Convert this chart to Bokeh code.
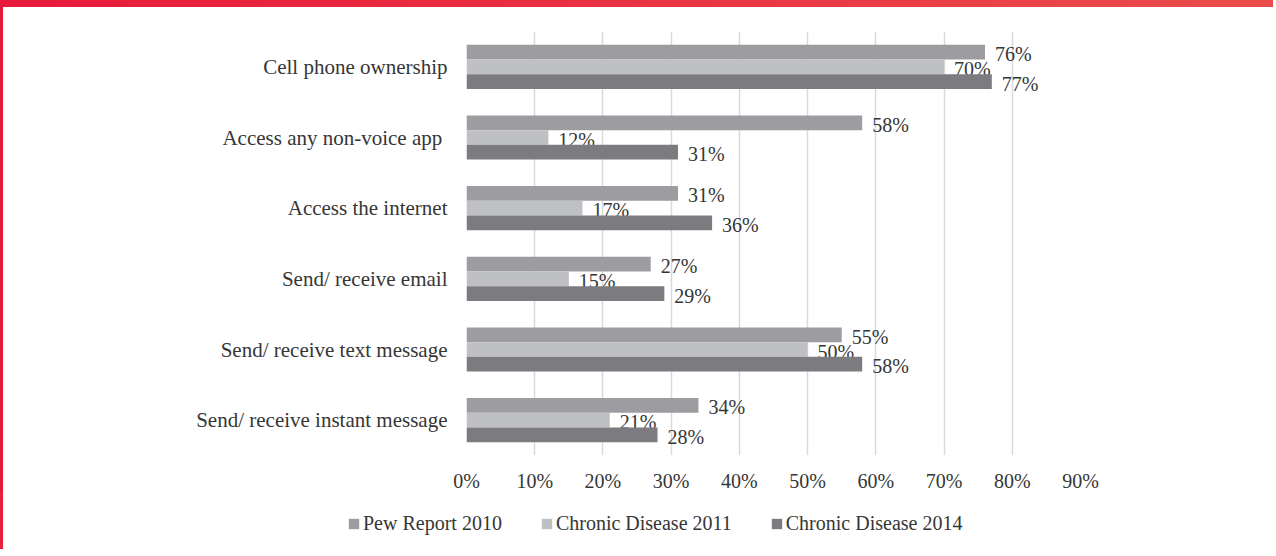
from bokeh.plotting import figure
from bokeh.layouts import column
from bokeh.models import Range1d, FixedTicker, Legend, LegendItem
from bokeh.core.properties import value
from bokeh.embed import file_html
from bokeh.resources import INLINE

categories = [
    "Cell phone ownership",
    "Access any non-voice  app",
    "Access the internet",
    "Send/ receive email",
    "Send/ receive text message",
    "Send/ receive instant message",
]
series_names = ["Pew Report 2010", "Chronic Disease 2011", "Chronic Disease 2014"]
pew_2010 = [76, 58, 31, 27, 55, 34]
chronic_2011 = [70, 12, 17, 15, 50, 21]
chronic_2014 = [77, 31, 36, 29, 58, 28]
x_ticks = [0, 10, 20, 30, 40, 50, 60, 70, 80, 90]

series = [pew_2010, chronic_2011, chronic_2014]
colors = ["#9d9da1", "#bfc0c3", "#7c7c80"]
FONT = "Liberation Serif"
TXT = "#363636"

n = len(categories)
centers = [n - 0.5 - i for i in range(n)]
bar_h = 0.208
offsets = [bar_h, 0.0, -bar_h]

p = figure(width=1273, height=493, output_backend="svg", toolbar_location=None,
           x_range=Range1d(0, 90), y_range=Range1d(0, n), frame_align=False,
           min_border_left=463, min_border_right=196, min_border_top=24, min_border_bottom=45,
           styles={"border-top": "7px solid #e8193b", "border-left": "3px solid #e6203d",
                   "border-image": "linear-gradient(to right, #e8193b, #ea4d4b) 1"})
p.outline_line_color = None
p.background_fill_color = "white"
p.border_fill_color = "white"

renderers = []
for vals, col, off in zip(series, colors, offsets):
    ys = [c + off for c in centers]
    r = p.hbar(y=ys, right=vals, left=0, height=bar_h, fill_color=col, line_color=None)
    renderers.append(r)
    p.text(x=vals, y=ys, text=[f"{v}%" for v in vals], x_offset=10, y_offset=2,
           text_baseline="middle", text_align="left",
           text_font=value(FONT), text_font_size="20px", text_color=TXT)

# axes
p.xaxis.ticker = FixedTicker(ticks=x_ticks)
p.xaxis.major_label_overrides = {t: f"{t}%" for t in x_ticks}
p.xaxis.axis_line_color = None
p.xaxis.major_tick_line_color = None
p.xaxis.minor_tick_line_color = None
p.xaxis.major_label_standoff = 8
p.xaxis.major_label_text_font = FONT
p.xaxis.major_label_text_font_size = "20px"
p.xaxis.major_label_text_color = TXT

p.yaxis.ticker = FixedTicker(ticks=centers)
p.yaxis.major_label_overrides = {c: lab for c, lab in zip(centers, categories)}
p.yaxis.axis_line_color = None
p.yaxis.major_tick_line_color = None
p.yaxis.minor_tick_line_color = None
p.yaxis.major_label_standoff = 13
p.yaxis.major_label_text_font = FONT
p.yaxis.major_label_text_font_size = "21px"
p.yaxis.major_label_text_color = TXT

p.xgrid.ticker = FixedTicker(ticks=x_ticks)
p.xgrid.grid_line_color = "#d9d9d9"
p.xgrid.grid_line_width = 1.5
p.ygrid.grid_line_color = None

# legend strip (separate small figure so the legend is not clipped)
lg = figure(width=1273, height=56, output_backend="svg", toolbar_location=None,
            x_axis_location=None, y_axis_location=None, min_border=0, frame_align=False,
            x_range=Range1d(0, 1), y_range=Range1d(0, 1),
            styles={"border-left": "3px solid #e6203d"})
lg.outline_line_color = None
lg.grid.visible = False
# off-range placeholder renderers that only supply the legend swatches
lg_renderers = [lg.hbar(y=[-5], right=[0], left=[0], height=0.1, fill_color=c, line_color=None)
                for c in colors]
legend = Legend(items=[LegendItem(label=nm, renderers=[r]) for nm, r in zip(series_names, lg_renderers)],
                orientation="horizontal", location=(344, 14),
                glyph_width=13, glyph_height=13, label_standoff=3, spacing=38,
                padding=0, margin=0, border_line_color=None, background_fill_alpha=0,
                label_text_font=FONT, label_text_font_size="20px", label_text_color=TXT)
lg.add_layout(legend, "center")

layout = column(p, lg, spacing=0)
open("out.html", "w").write(file_html(layout, INLINE))
